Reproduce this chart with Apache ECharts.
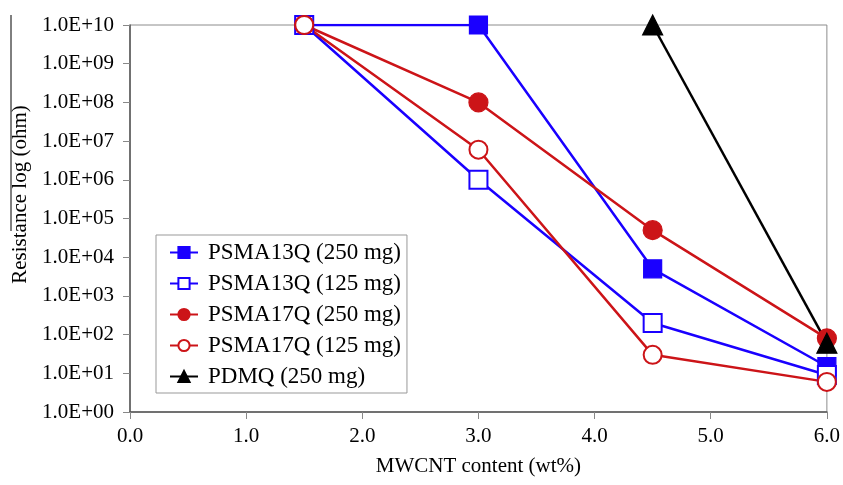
<!DOCTYPE html>
<html>
<head>
<meta charset="utf-8">
<script src="https://cdn.jsdelivr.net/npm/echarts@6/dist/echarts.min.js"></script>
<style>
  html, body { margin: 0; padding: 0; background: #fff; }
  #chart { width: 843px; height: 485px; }
</style>
</head>
<body>
<div id="chart"></div>
<script>
// wt% MWCNT vs resistance (ohm)
var psma13q250 = [[1.5, 1e10], [3.0, 1e10], [4.5, 5e3], [6.0, 15]];
var psma13q125 = [[1.5, 1e10], [3.0, 1e6], [4.5, 200], [6.0, 9]];
var psma17q250 = [[1.5, 1e10], [3.0, 1e8], [4.5, 5e4], [6.0, 80]];
var psma17q125 = [[1.5, 1e10], [3.0, 6e6], [4.5, 30], [6.0, 6]];
var pdmq250 = [[4.5, 1e10], [6.0, 60]];

var seriesNames = ['PSMA13Q (250 mg)', 'PSMA13Q (125 mg)', 'PSMA17Q (250 mg)', 'PSMA17Q (125 mg)', 'PDMQ (250 mg)'];

var BLUE = '#1a00ff', RED = '#cc1418', BLACK = '#000';
var FONT = '"Liberation Serif", "Times New Roman", serif';

var myChart = echarts.init(document.getElementById('chart'));

function mk(name, data, color, symbol, size) {
    return {
        name: name,
        type: 'line',
        data: data,
        symbol: symbol,
        symbolSize: size,
        showAllSymbol: true,
        lineStyle: { color: color, width: 2.5 },
        itemStyle: { color: color, borderColor: color, borderWidth: 1.2 },
        emphasis: { disabled: true }
    };
}

// 1.0E+07 style, two-digit exponent
function sci(v) {
    var e = Math.round(Math.log10(v));
    var m = v / Math.pow(10, e);
    return m.toFixed(1) + 'E+' + (e < 10 ? '0' + e : e);
}

option = {
    backgroundColor: '#fff',
    animation: false,
    grid: {
        left: 130,
        right: 15,
        top: 25,
        bottom: 73,
        show: true,
        borderColor: '#8c8c8c',
        borderWidth: 1
    },
    legend: {
        orient: 'vertical',
        left: 156,
        top: 235,
        data: seriesNames,
        backgroundColor: '#fff',
        borderColor: '#999',
        borderWidth: 1,
        padding: [6, 6, 5, 13],
        itemGap: 8,
        itemWidth: 28,
        itemHeight: 14,
        textStyle: { fontFamily: FONT, fontSize: 23, color: '#000', padding: [0, 0, 0, 5] }
    },
    xAxis: {
        type: 'value',
        min: 0,
        max: 6,
        interval: 1,
        name: 'MWCNT content (wt%)',
        nameLocation: 'middle',
        nameGap: 44,
        nameTextStyle: { fontFamily: FONT, fontSize: 21, color: '#000' },
        axisLine: { lineStyle: { color: '#555', width: 1.5 } },
        axisTick: { show: true, inside: false, length: 7, lineStyle: { color: '#888' } },
        axisLabel: {
            fontFamily: FONT, fontSize: 21, color: '#000', margin: 14,
            formatter: function (v) { return v.toFixed(1); }
        },
        splitLine: { show: false }
    },
    yAxis: {
        type: 'log',
        logBase: 10,
        min: 1,
        max: 1e10,
        interval: 1,
        name: 'Resistance log (ohm)',
        nameLocation: 'middle',
        nameGap: 98,
        nameTextStyle: { fontFamily: FONT, fontSize: 21, color: '#000', padding: [0, 0, 0, 48] },
        axisLine: { show: true, lineStyle: { color: '#555', width: 1.5 } },
        axisTick: { show: true, inside: false, length: 7, lineStyle: { color: '#888' } },
        axisLabel: {
            fontFamily: FONT, fontSize: 21, color: '#000', margin: 16,
            formatter: sci
        },
        splitLine: { show: false }
    },
    graphic: [{
        type: 'line',
        shape: { x1: 11, y1: 15, x2: 11, y2: 231 },
        style: { stroke: '#000', lineWidth: 1 },
        silent: true
    }],
    series: [
        mk(seriesNames[0], psma13q250, BLUE, 'rect', 18),
        mk(seriesNames[1], psma13q125, BLUE, 'emptyRect', 18),
        mk(seriesNames[2], psma17q250, RED, 'circle', 19),
        mk(seriesNames[3], psma17q125, RED, 'emptyCircle', 18),
        mk(seriesNames[4], pdmq250, BLACK, 'triangle', 20)
    ]
};
myChart.setOption(option);
</script>
</body>
</html>
